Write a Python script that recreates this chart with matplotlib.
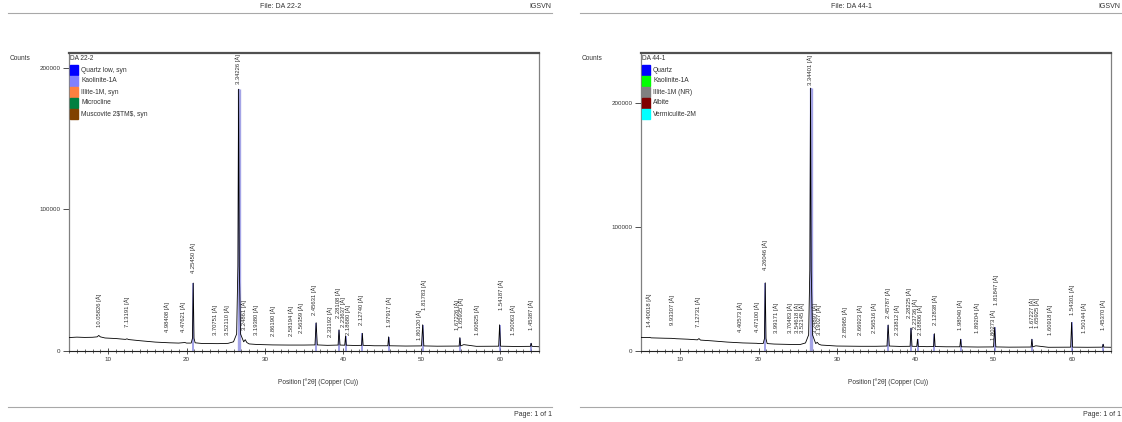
import matplotlib
matplotlib.use("Agg")
import matplotlib.pyplot as plt
from matplotlib.patches import Rectangle
from matplotlib.ticker import MultipleLocator

plt.rcParams["font.family"] = ["Liberation Sans", "DejaVu Sans"]

W, H = 1122, 422

# ---- DA 22-2 ----
sample_a = "DA 22-2"
phases_a = ["Quartz low, syn", "Kaolinite-1A", "Illite-1M, syn", "Microcline", "Muscovite 2\\$TM\\$, syn"]
phase_colors_a = ["#0000FF", "#8080FF", "#FF8040", "#008040", "#804000"]
two_theta_a = [5.0, 6.0, 7.0, 8.0, 8.6, 8.8, 9.0, 9.6, 11.0, 12.2, 12.4, 12.6, 14.0, 16.0, 17.8, 19.0,
               19.8, 20.0, 20.6, 20.76, 20.86, 20.96, 21.1, 22.0, 24.0, 25.3, 26.0, 26.4, 26.56, 26.65,
               26.74, 26.9, 27.3, 27.5, 27.7, 28.0, 29.0, 31.0, 33.0, 35.0, 36.4, 36.55, 36.7, 38.0,
               39.35, 39.47, 39.6, 40.2, 40.3, 40.4, 41.5, 42.35, 42.45, 42.55, 44.0, 45.7, 45.8, 45.9,
               48.0, 50.0, 50.15, 50.3, 52.0, 54.8, 54.9, 55.0, 55.4, 57.0, 59.85, 59.97, 60.1, 62.0,
               63.9, 64.0, 64.1, 65.0]
counts_a = [9500, 9800, 9600, 9700, 10000, 11000, 10000, 9200, 8800, 8200, 8600, 8100, 7300, 6300, 5800, 5600,
            6000, 5600, 5600, 9000, 48000, 9000, 5800, 5300, 5200, 5400, 6500, 12000, 60000, 185000,
            60000, 12000, 6500, 8000, 6000, 5000, 4600, 4300, 4200, 4200, 4300, 20000, 4300, 4000,
            4200, 15000, 4200, 4100, 10500, 4100, 3900, 4000, 12500, 4000, 3700, 3700, 10000, 3700,
            3500, 3600, 18500, 3600, 3400, 3500, 9500, 3600, 4500, 3300, 3400, 18500, 3400, 3200,
            3300, 5500, 3300, 3000]
sticks_a = [20.86, 26.65, 36.55, 39.47, 40.3, 42.45, 45.8, 50.15, 54.9, 59.97, 64.0]
stick_counts_a = [48000, 185000, 20000, 15000, 10500, 12500, 10000, 18500, 9500, 18500, 5500]
peak_labels_a = ["10.05826 [Å]", "7.13191 [Å]", "4.98408 [Å]", "4.47621 [Å]", "4.25450 [Å]", "3.70751 [Å]",
                 "3.52110 [Å]", "3.34226 [Å]", "3.24861 [Å]", "3.19380 [Å]", "2.86190 [Å]", "2.58194 [Å]",
                 "2.56359 [Å]", "2.45631 [Å]", "2.33192 [Å]", "2.28108 [Å]", "2.23637 [Å]", "2.18680 [Å]",
                 "2.12740 [Å]", "1.97917 [Å]", "1.81783 [Å]", "1.80120 [Å]", "1.67226 [Å]", "1.65935 [Å]",
                 "1.60825 [Å]", "1.54187 [Å]", "1.50063 [Å]", "1.45387 [Å]"]
peak_pos_a = [8.9, 12.39, 17.55, 19.6, 20.84, 23.6, 25.25, 26.65, 27.42, 28.95, 31.11, 33.41,
              34.68, 36.3, 38.38, 39.3, 39.95, 40.67, 42.32, 45.89, 50.3, 49.75, 54.55, 55.1,
              57.1, 60.16, 61.69, 63.98]
label_base_a = [17000, 17000, 13400, 13400, 55000, 11300, 11300, None, 14800, 11300, 10600, 10600,
                12700, 25400, 9900, 23300, 17000, 11300, 18400, 17000, 28900, 7800, 14800, 16000,
                11300, 28900, 11300, 14800]

# ---- DA 44-1 ----
sample_b = "DA 44-1"
phases_b = ["Quartz", "Kaolinite-1A", "Illite-1M (NR)", "Albite", "Vermiculite-2M"]
phase_colors_b = ["#0000FF", "#00FF00", "#808080", "#800000", "#00FFFF"]
two_theta_b = [5.0, 6.0, 6.1, 6.3, 8.0, 8.9, 9.5, 11.0, 12.2, 12.4, 12.6, 14.0, 16.0, 18.0, 19.8, 20.0,
               20.6, 20.76, 20.86, 20.96, 21.1, 22.0, 24.0, 25.3, 26.0, 26.4, 26.55, 26.64, 26.73, 26.9,
               27.3, 27.5, 27.7, 28.0, 30.0, 33.0, 35.0, 36.4, 36.55, 36.7, 38.0, 39.35, 39.47, 39.6,
               40.2, 40.3, 40.4, 41.5, 42.35, 42.45, 42.55, 44.0, 45.7, 45.8, 45.9, 48.0, 50.0, 50.15,
               50.3, 52.0, 54.8, 54.9, 55.0, 55.4, 57.0, 59.85, 59.97, 60.1, 62.0, 63.9, 64.0, 64.1, 65.0]
counts_b = [11000, 10800, 11000, 10600, 10300, 10200, 9900, 9500, 9000, 10000, 8800, 8200, 7200, 6500, 6200, 6000,
            6000, 10000, 55000, 10000, 6000, 5600, 5300, 5200, 6500, 13000, 65000, 212000, 65000, 13000,
            6000, 7000, 5500, 4800, 4000, 3800, 3800, 4000, 21000, 4000, 3700, 3800, 18500, 3800,
            3700, 9500, 3700, 3500, 3600, 14000, 3600, 3400, 3400, 9500, 3400, 3200, 3300, 19000,
            3300, 3100, 3200, 9500, 3300, 4200, 3000, 3100, 23000, 3100, 3000, 3100, 5500, 3100, 3000]
sticks_b = [20.86, 26.64, 36.55, 39.47, 40.3, 42.45, 45.8, 50.15, 54.9, 59.97, 64.0]
stick_counts_b = [55000, 212000, 21000, 18500, 9500, 14000, 9500, 19000, 9500, 23000, 5500]
peak_labels_b = ["14.40018 [Å]", "9.93307 [Å]", "7.12731 [Å]", "4.40573 [Å]", "4.47100 [Å]", "4.26046 [Å]",
                 "3.99171 [Å]", "3.70483 [Å]", "3.54618 [Å]", "3.52145 [Å]", "3.34401 [Å]", "3.24897 [Å]",
                 "3.19027 [Å]", "2.85965 [Å]", "2.66923 [Å]", "2.56516 [Å]", "2.45787 [Å]", "2.33812 [Å]",
                 "2.28225 [Å]", "2.23736 [Å]", "2.18806 [Å]", "2.12838 [Å]", "1.98040 [Å]", "1.89204 [Å]",
                 "1.81847 [Å]", "1.80273 [Å]", "1.67227 [Å]", "1.65925 [Å]", "1.60918 [Å]", "1.54301 [Å]",
                 "1.50144 [Å]", "1.45370 [Å]"]
peak_pos_b = [6.02, 8.96, 12.28, 17.64, 19.81, 20.84, 22.24, 24.03, 24.92, 25.56, 26.64, 27.22,
              27.73, 31.05, 32.97, 34.76, 36.55, 37.7, 39.25, 39.95, 40.7, 42.55, 45.74, 47.91,
              50.3, 49.96, 54.94, 55.57, 57.24, 60.04, 61.58, 64.0]
label_base_b = [19400, 21000, 19400, 15300, 15300, 65000, 14500, 14500, 14500, 14500, None, 14500,
                12900, 11300, 12900, 14500, 26600, 12900, 26600, 17500, 12500, 21000, 16900, 14500,
                37000, 8900, 18500, 18500, 12900, 29000, 14500, 16900]


def fx(x):
    return x / W


def fy(y):
    return 1 - y / H


fig = plt.figure(figsize=(W / 100, H / 100), dpi=100)


def page(x0, x1, sample):
    # header, footer and separator lines of one printed page
    fig.add_artist(plt.Line2D([fx(x0), fx(x1)], [fy(13), fy(13)], color="#a8a8a8", lw=0.8))
    fig.add_artist(plt.Line2D([fx(x0), fx(x1)], [fy(407), fy(407)], color="#a8a8a8", lw=0.8))
    fig.text(fx((x0 + x1) / 2 + 1), fy(6), "File: " + sample, fontsize=5, ha="center", va="center", color="#333333")
    fig.text(fx(x1 - 1), fy(6), "IGSVN", fontsize=5, ha="right", va="center", color="#333333")
    fig.text(fx(x1), fy(414), "Page: 1 of 1", fontsize=5, ha="right", va="center", color="#333333")


def panel(left_px, top_count, sample, phases, colors, tt, cts, sticks, stick_cts,
          labels, pos, bases, counts_x, xlabel_x):
    ax = fig.add_axes([fx(left_px), fy(351), 470 / W, (351 - 53) / H])
    ax.set_xlim(5, 65)
    ax.set_ylim(0, top_count)

    ax.vlines(sticks, 0, stick_cts, color="#6a6ad8", lw=1.1, alpha=0.8, zorder=2)
    ax.vlines(sticks[1], 0, stick_cts[1], color="#a4a4e6", lw=2.4, zorder=2)
    ax.plot(tt, cts, color="black", lw=0.6, zorder=3)

    for txt, p, b in zip(labels, pos, bases):
        if b is None:
            ax.text(p, top_count * 0.995, txt, rotation=90, fontsize=4.2, ha="center", va="top", color="#303030")
        else:
            ax.text(p, b, txt, rotation=90, fontsize=4.2, ha="center", va="bottom", color="#303030")

    ax.set_yticks([0, 100000, 200000])
    ax.set_yticklabels(["0", "100000", "200000"])
    ax.xaxis.set_major_locator(MultipleLocator(10))
    ax.xaxis.set_minor_locator(MultipleLocator(1))
    ax.tick_params(axis="both", which="major", labelsize=4.5, length=4, width=0.6, colors="#333333", pad=2)
    ax.tick_params(axis="x", which="minor", length=2.5, width=0.5, direction="inout", color="#333333")
    ax.tick_params(axis="x", which="major", direction="inout", length=5)
    for side in ("left", "right"):
        ax.spines[side].set_color("#808080")
        ax.spines[side].set_linewidth(0.9)
    ax.spines["top"].set_color("#505050")
    ax.spines["top"].set_linewidth(1.6)
    ax.spines["bottom"].set_color("#222222")
    ax.spines["bottom"].set_linewidth(0.8)

    # legend drawn by hand in the upper left corner
    lx = left_px + 1
    fig.text(fx(lx), fy(58), sample, fontsize=4.7, ha="left", va="center", color="#333333")
    for i, (name, c) in enumerate(zip(phases, colors)):
        yc = 70 + 11 * i
        fig.add_artist(Rectangle((fx(lx), fy(yc + 5)), 8 / W, 10 / H, color=c, transform=fig.transFigure))
        fig.text(fx(lx + 11), fy(yc), name, fontsize=4.8, ha="left", va="center", color="#333333")

    fig.text(fx(counts_x), fy(58), "Counts", fontsize=4.7, ha="left", va="center", color="#333333")
    fig.text(fx(xlabel_x), fy(382), "Position [°2θ] (Copper (Cu))", fontsize=4.7, ha="center", va="center",
             color="#333333")
    return ax


page(8, 552, sample_a)
page(580, 1121, sample_b)
panel(69, 210600, sample_a, phases_a, phase_colors_a, two_theta_a, counts_a, sticks_a, stick_counts_a,
      peak_labels_a, peak_pos_a, label_base_a, 10, 318)
panel(641, 240300, sample_b, phases_b, phase_colors_b, two_theta_b, counts_b, sticks_b, stick_counts_b,
      peak_labels_b, peak_pos_b, label_base_b, 582, 888)

fig.savefig("out.png", dpi=100)
